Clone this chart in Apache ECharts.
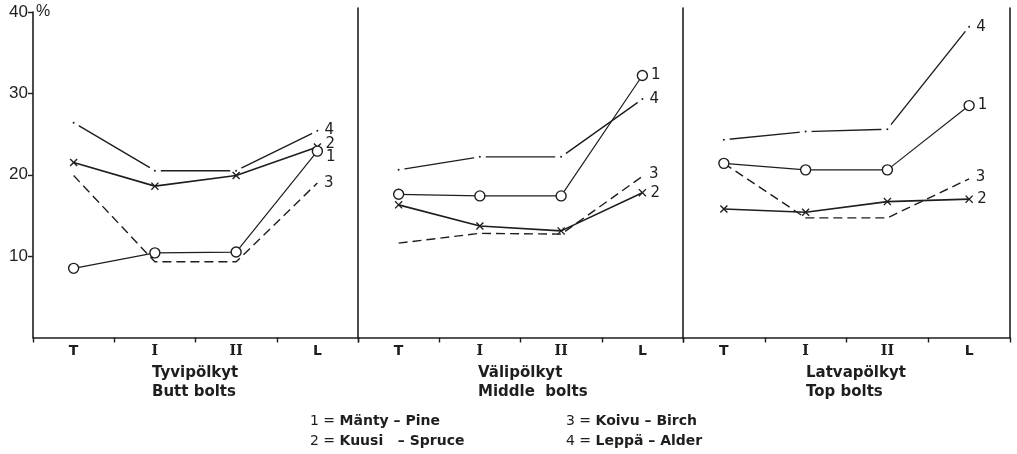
<!DOCTYPE html>
<html>
<head>
<meta charset="utf-8">
<script src="https://cdn.jsdelivr.net/npm/echarts@6/dist/echarts.min.js"></script>
<style>
  html, body { margin: 0; padding: 0; background: #fff; }
  #chart { width: 1017px; height: 454px; }
</style>
</head>
<body>
<div id="chart"></div>
<script>
// ---- data ----
const categories = ['T', 'I', 'II', 'L'];
const panelNames = ['Tyvipölkyt\nButt bolts', 'Välipölkyt\nMiddle  bolts', 'Latvapölkyt\nTop bolts'];
const seriesIds = ['1', '2', '3', '4'];
const speciesFi = ['Mänty', 'Kuusi', 'Koivu', 'Leppä'];
const speciesEn = ['Pine', 'Spruce', 'Birch', 'Alder'];
const yTicks = [0, 10, 20, 30, 40];
const yUnit = '%';
// values per panel (Butt, Middle, Top), each over T, I, II, L
const pine   = [[8.5, 10.4, 10.5, 22.9], [17.6, 17.4, 17.4, 32.2], [21.4, 20.6, 20.6, 28.5]];
const spruce = [[21.5, 18.6, 19.9, 23.4], [16.3, 13.7, 13.1, 17.8], [15.8, 15.4, 16.7, 17.0]];
const birch  = [[19.9, 9.3, 9.3, 19.0], [11.6, 12.8, 12.7, 19.8], [21.4, 14.7, 14.7, 19.5]];
const alder  = [[26.4, 20.5, 20.5, 25.4], [20.6, 22.2, 22.2, 29.3], [24.3, 25.3, 25.6, 38.2]];

// ---- layout / styles ----
const INK = '#1e1e1e';
const yMin = yTicks[0], yMax = yTicks[yTicks.length - 1], yStep = yTicks[1] - yTicks[0];
const axisBottom = 116.5;
const plotH = 454 - axisBottom - 12;          // height for 0..40
const pxPerUnit = plotH / (yMax - yMin);
const dividerTop = 8;
const extMax = (454 - axisBottom - dividerTop) / pxPerUnit; // taller dividers, same scale
const gridsPos = [
  { left: 33, width: 325, top: 12 },
  { left: 358, width: 325, top: dividerTop },
  { left: 683, width: 327, top: dividerTop }
];
const allSeries = [pine, spruce, birch, alder];
const labelOffsets = [
  [[0, 6], [0, -3], [0, 0], [0, -1]],
  [[0, 0], [0, 0], [0, -2], [0, 0]],
  [[0, 0], [0, 0], [0, -2], [0, 0]]
];
const labelDist = [3, 4, 6, 1];

const lineFont = 'DejaVu Sans';
const grids = [], xAxes = [], yAxes = [], series = [];

gridsPos.forEach((g, p) => {
  grids.push({ left: g.left, width: g.width, top: g.top, bottom: axisBottom });
  xAxes.push({
    type: 'category', gridIndex: p, data: categories, boundaryGap: true,
    axisLine: { show: true, lineStyle: { color: INK, width: 1.6 } },
    axisTick: { show: true, interval: 0, length: 5, lineStyle: { color: INK, width: 1.4 } },
    axisLabel: {
      interval: 0, margin: 7, color: INK,
      formatter: v => (v === 'I' || v === 'II') ? '{r|' + v + '}' : '{s|' + v + '}',
      rich: {
        r: { fontFamily: 'DejaVu Serif', fontWeight: 'bold', fontSize: 14, color: INK },
        s: { fontFamily: 'DejaVu Sans', fontWeight: 'bold', fontSize: 14, color: INK }
      }
    },
    splitLine: { show: false }
  });
  const first = p === 0;
  yAxes.push({
    type: 'value', gridIndex: p, min: yMin, max: first ? yMax : extMax, interval: yStep,
    axisLine: { show: true, onZero: false, lineStyle: { color: INK, width: 1.6 } },
    axisTick: { show: first, length: 5, lineStyle: { color: INK, width: 1.4 } },
    axisLabel: {
      show: first, showMinLabel: false, margin: 5, color: INK,
      fontFamily: 'Liberation Sans', fontSize: 17,
      formatter: v => (v === yMin ? '' : String(v))
    },
    splitLine: { show: false },
    name: first ? yUnit : '',
    nameLocation: 'end', nameGap: 0,
    nameTextStyle: { align: 'left', verticalAlign: 'middle', padding: [4, 0, 0, 3],
      fontFamily: 'Liberation Sans', fontSize: 16, color: INK }
  });
});
// right border of last panel
yAxes.push({
  type: 'value', gridIndex: 2, position: 'right', min: yMin, max: extMax,
  axisLine: { show: true, onZero: false, lineStyle: { color: INK, width: 1.6 } },
  axisTick: { show: false }, axisLabel: { show: false }, splitLine: { show: false }
});

const crossPath = 'path://M0,1.2L1.2,0L5,3.8L8.8,0L10,1.2L6.2,5L10,8.8L8.8,10L5,6.2L1.2,10L0,8.8L3.8,5Z';
const styles = [
  { symbol: 'circle', symbolSize: 10, z: 4,
    itemStyle: { color: '#fff', borderColor: INK, borderWidth: 1.4 },
    lineStyle: { color: INK, width: 1.2, type: 'solid' } },
  { symbol: crossPath, symbolSize: 8, z: 3,
    itemStyle: { color: INK, borderWidth: 0 },
    lineStyle: { color: INK, width: 1.6, type: 'solid' } },
  { symbol: 'circle', symbolSize: 1, z: 2,
    itemStyle: { color: 'rgba(0,0,0,0)', borderWidth: 0 },
    lineStyle: { color: INK, width: 1.4, type: [9, 5] } },
  { symbol: 'circle', symbolSize: 7, z: 1,
    itemStyle: { color: INK, borderColor: '#fff', borderWidth: 5 },
    lineStyle: { color: INK, width: 1.4, type: 'solid' } }
];

allSeries.forEach((vals, s) => {
  vals.forEach((panelVals, p) => {
    const st = styles[s];
    series.push({
      type: 'line', name: seriesIds[s], xAxisIndex: p, yAxisIndex: p,
      symbol: st.symbol, symbolSize: st.symbolSize, showSymbol: true,
      z: st.z, silent: true, animation: false,
      itemStyle: st.itemStyle, lineStyle: st.lineStyle,
      emphasis: { disabled: true },
      label: { show: false },
      data: panelVals.map((v, i) => i === panelVals.length - 1 ? {
        value: v,
        label: {
          show: true, position: 'right', distance: labelDist[s], formatter: seriesIds[s],
          offset: labelOffsets[p][s], color: INK, fontFamily: lineFont, fontSize: 15
        }
      } : v)
    });
  });
});

const titleFont = 'DejaVu Sans';
const titles = panelNames.map((t, p) => ({
  text: t, left: [147, 473, 801][p], top: 359, padding: 5,
  textStyle: { fontFamily: titleFont, fontWeight: 'bold', fontSize: 15, lineHeight: 19, color: INK }
}));
const legendRich = {
  n: { fontFamily: titleFont, fontWeight: 'normal', fontSize: 14, color: INK, lineHeight: 20 },
  b: { fontFamily: titleFont, fontWeight: 'bold', fontSize: 14, color: INK, lineHeight: 20 }
};
const legendLine = i => '{n|' + seriesIds[i] + ' = }{b|' + speciesFi[i] + (i === 1 ? '   ' : ' ') + '– ' + speciesEn[i] + '}';
titles.push({
  text: legendLine(0) + '\n' + legendLine(1), left: 305, top: 406,
  textStyle: { rich: legendRich, lineHeight: 20 }
});
titles.push({
  text: legendLine(2) + '\n' + legendLine(3), left: 561, top: 406,
  textStyle: { rich: legendRich, lineHeight: 20 }
});

const chart = echarts.init(document.getElementById('chart'), null, { renderer: 'canvas' });
chart.setOption({
  backgroundColor: '#fff',
  animation: false,
  title: titles,
  grid: grids,
  xAxis: xAxes,
  yAxis: yAxes,
  series: series
});
</script>
</body>
</html>
